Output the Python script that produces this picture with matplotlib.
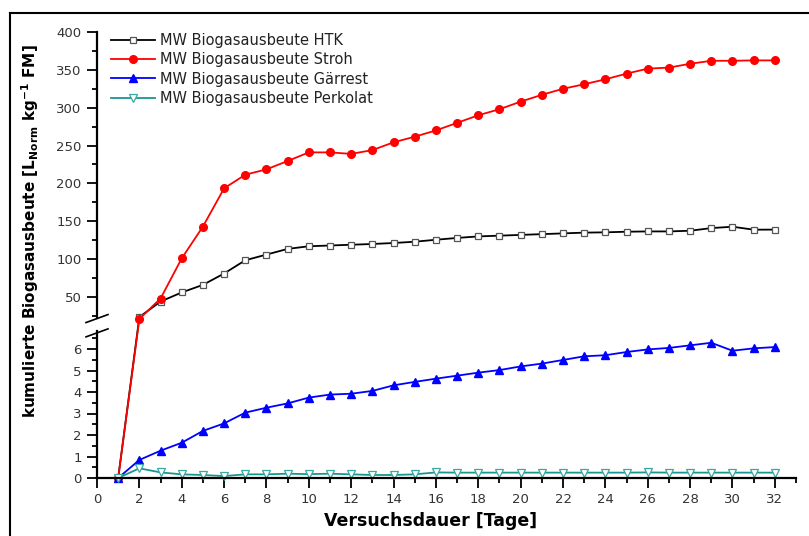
import numpy as np
import matplotlib
matplotlib.use('Agg')
import matplotlib.pyplot as plt
from matplotlib.lines import Line2D
from matplotlib.transforms import IdentityTransform

tage = list(range(1, 33))

htk = [0, 23.5, 44, 56, 66, 81, 98.5, 106, 113.5, 117, 118, 119, 120, 121.3,
       123, 125.6, 128, 130, 131, 132, 133, 134, 135, 135.4, 136.2, 136.6,
       136.6, 137.5, 141, 142.8, 138.9, 139]
stroh = [0, 21, 48, 101, 143, 193.5, 211.5, 218.6, 229.6, 241, 241, 239, 244,
         254.3, 261.7, 270, 280, 290, 298, 308, 317, 325, 331, 337.5, 345,
         351.6, 353, 358, 362, 362, 362.5, 362.5]
gaerrest = [0, 0.84, 1.27, 1.64, 2.19, 2.54, 3.04, 3.27, 3.47, 3.74, 3.88,
            3.92, 4.05, 4.31, 4.47, 4.62, 4.76, 4.90, 5.02, 5.19, 5.32, 5.49,
            5.66, 5.71, 5.86, 5.98, 6.05, 6.17, 6.29, 5.92, 6.03, 6.09]
perkolat = [0, 0.45, 0.26, 0.17, 0.14, 0.09, 0.17, 0.17, 0.2, 0.18, 0.2, 0.17,
            0.14, 0.14, 0.17, 0.26, 0.25, 0.25, 0.25, 0.25, 0.25, 0.25, 0.25,
            0.25, 0.25, 0.26, 0.25, 0.25, 0.25, 0.25, 0.25, 0.25]

# gebrochene y-Achse: 0..7 unten, 20..400 oben (Pixel-Hoehen aus dem Original)
xp = np.array([0, 7, 20, 400])
fp = np.array([0, 150.5, 158.3, 446])


def fwd(v):
    v = np.asarray(v, float)
    out = np.interp(v, xp, fp)
    out = np.where(v < 0, v * 21.5, out)
    out = np.where(v > 400, 446 + (v - 400) * 0.757, out)
    return out


def inv(s):
    s = np.asarray(s, float)
    out = np.interp(s, fp, xp)
    out = np.where(s < 0, s / 21.5, out)
    out = np.where(s > 446, 400 + (s - 446) / 0.757, out)
    return out


fig = plt.figure(figsize=(8.09, 5.36), dpi=100)
ax = fig.add_axes([97 / 809, 58 / 536, 699 / 809, 446 / 536])
ax.set_yscale('function', functions=(fwd, inv))

lw = 1.3
ax.plot(tage, htk, color='black', lw=lw, marker='s', ms=5, mfc='white',
        mec='#555555', mew=0.9, label='MW Biogasausbeute HTK', clip_on=False)
ax.plot(tage, stroh, color='#ff0000', lw=lw, marker='o', ms=5.5,
        label='MW Biogasausbeute Stroh', clip_on=False)
ax.plot(tage, gaerrest, color='#0000ff', lw=lw, marker='^', ms=6,
        label='MW Biogasausbeute Gärrest', clip_on=False)
ax.plot(tage, perkolat, color='#1a9690', lw=lw, marker='v', ms=6, mfc='white',
        mec='#3aa8a2', mew=0.9, label='MW Biogasausbeute Perkolat', clip_on=False)

ax.set_xlim(0, 33)
ax.set_ylim(0, 400)
ax.set_xticks(range(0, 33, 2))
ax.set_xticks(range(0, 34), minor=True)
major_y = [0, 1, 2, 3, 4, 5, 6] + list(range(50, 401, 50))
minor_y = list(np.arange(0.5, 7, 1)) + list(range(25, 400, 50))
ax.set_yticks(major_y)
ax.set_yticklabels([str(v) for v in major_y])
ax.set_yticks(minor_y, minor=True)

for s in ['top', 'right', 'left']:
    ax.spines[s].set_visible(False)
ax.spines['bottom'].set_linewidth(1.6)
ax.tick_params(which='major', length=7, width=1.3, pad=4, labelsize=9.5,
               labelcolor='#333333', direction='out')
ax.tick_params(which='minor', length=3.5, width=1.3, direction='out')

# linke Achse in zwei Teilen
ytr = ax.get_yaxis_transform()
ax.plot([0, 0], [0, 6.85], color='black', lw=1.6, transform=ytr, clip_on=False)
ax.plot([0, 0], [22.5, 400], color='black', lw=1.6, transform=ytr, clip_on=False)

fig.canvas.draw()
for yv in [21.5, 6.75]:
    cx, cy = ytr.transform((0, yv))
    fig.add_artist(Line2D([cx - 11, cx + 11], [cy - 4, cy + 4], color='black',
                          lw=1.2, transform=IdentityTransform()))

leg = ax.legend(loc='upper left', bbox_to_anchor=(105 / 809, 1 - 27 / 536),
                bbox_transform=fig.transFigure, frameon=False, fontsize=10.5,
                handlelength=3.0, handletextpad=0.4, labelspacing=0.3,
                borderaxespad=0)
for t in leg.get_texts():
    t.set_color('#222222')

fig.text(431 / 809, 1 - 521 / 536, 'Versuchsdauer [Tage]', ha='center',
         va='center', fontsize=12.5, fontweight='bold')
fig.text(30 / 809, 1 - 231 / 536,
         r'kumulierte Biogasausbeute [L$_\mathbf{Norm}$ kg$^\mathbf{-1}$ FM]',
         rotation=90, ha='center', va='center', fontsize=11, fontweight='bold')

# Rahmen
fig.add_artist(Line2D([10 / 809, 1], [1 - 13 / 536, 1 - 13 / 536],
                      color='black', lw=1.5, transform=fig.transFigure))
fig.add_artist(Line2D([10 / 809, 10 / 809], [0, 1 - 13 / 536],
                      color='black', lw=1.5, transform=fig.transFigure))

fig.savefig('out.png', dpi=100)
